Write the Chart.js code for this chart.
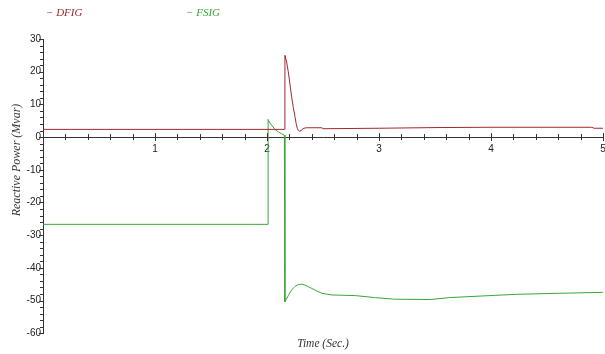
<!DOCTYPE html>
<html>
<head>
<meta charset="utf-8">
<script src="https://cdn.jsdelivr.net/npm/chart.js@4/dist/chart.umd.min.js"></script>
<style>
  html, body { margin: 0; padding: 0; background: #ffffff; }
  #wrap { position: relative; width: 605px; height: 354px; }
</style>
</head>
<body>
<div id="wrap"><canvas id="c" width="605" height="354"></canvas></div>
<script>
// ---- data ----
const seriesNames = ['DFIG', 'FSIG'];
const dfigTime  = [0, 2.155, 2.16, 2.175, 2.19, 2.205, 2.22, 2.235, 2.25, 2.26, 2.27, 2.28, 2.29, 2.305, 2.32, 2.34, 2.36, 2.49, 2.5, 3.0, 3.5, 4.0, 4.9, 4.92, 5.0];
const dfigValue = [2.35, 2.35, 25, 23, 20, 16.2, 12.3, 9.0, 6.2, 4.2, 2.7, 2.0, 1.8, 2.0, 2.5, 2.8, 2.85, 2.85, 2.55, 2.7, 2.9, 3.0, 3.0, 2.7, 2.7];
const fsigTime  = [0, 2.01, 2.01, 2.02, 2.04, 2.07, 2.10, 2.13, 2.155, 2.16, 2.19, 2.22, 2.25, 2.28, 2.31, 2.34, 2.37, 2.40, 2.44, 2.49, 2.54, 2.58, 2.79, 2.96, 3.14, 3.46, 3.63, 3.93, 4.23, 4.59, 5.0];
const fsigValue = [-26.7, -26.7, 5.4, 4.6, 3.7, 2.4, 1.6, 1.0, 0.6, -50.4, -48.5, -46.8, -45.7, -45.1, -45.0, -45.3, -45.8, -46.3, -47.0, -47.8, -48.1, -48.3, -48.5, -49.1, -49.6, -49.7, -49.1, -48.6, -48.1, -47.8, -47.5];
const xTickValues = [0, 1, 2, 3, 4, 5];
const yTickValues = [-60, -50, -40, -30, -20, -10, 0, 10, 20, 30];
const xTitle = 'Time (Sec.)';
const yTitle = 'Reactive Power (Mvar)';

const colors = ['#a3272b', '#3aa63a'];

function pts(xs, ys) { return xs.map((x, i) => ({ x: x, y: ys[i] })); }

// minor / major ticks crossing the axes, y title and legend
const decorPlugin = {
  id: 'decor',
  afterDraw(chart) {
    const ctx = chart.ctx;
    const xs = chart.scales.x, ys = chart.scales.y;
    const y0 = ys.getPixelForValue(0);
    const xl = ys.right;
    ctx.save();
    ctx.strokeStyle = '#333';
    ctx.lineWidth = 1;
    for (let i = 1; i <= 25; i++) {
      const v = i * 0.2;
      const px = Math.round(xs.getPixelForValue(v)) + 0.5;
      const major = i % 5 === 0;
      const len = major ? 4 : 3;
      ctx.beginPath();
      ctx.moveTo(px, y0 - len);
      ctx.lineTo(px, y0 + len);
      ctx.stroke();
    }
    for (let v = -60; v <= 30; v += 2) {
      const py = Math.round(ys.getPixelForValue(v)) + 0.5;
      const len = v % 10 === 0 ? 4 : 3;
      ctx.beginPath();
      ctx.moveTo(xl - len, py);
      ctx.lineTo(xl, py);
      ctx.stroke();
    }
    ctx.fillStyle = '#333';
    ctx.font = 'italic 12px "Liberation Serif"';
    ctx.textAlign = 'center';
    ctx.textBaseline = 'middle';
    ctx.translate(17, 160);
    ctx.rotate(-Math.PI / 2);
    ctx.fillText(yTitle, 0, 0);
    ctx.restore();
    ctx.save();
    ctx.font = 'italic 11px "Liberation Serif"';
    ctx.textAlign = 'left';
    ctx.textBaseline = 'middle';
    const legendX = [46, 186];
    chart.data.datasets.forEach((ds, i) => {
      ctx.fillStyle = ds.borderColor;
      ctx.fillText('\u2212 ' + ds.label, legendX[i], 13.5);
    });
    ctx.restore();
  }
};

new Chart(document.getElementById('c'), {
  type: 'scatter',
  data: {
    datasets: [
      { label: seriesNames[0], data: pts(dfigTime, dfigValue), borderColor: colors[0], backgroundColor: colors[0],
        showLine: true, pointRadius: 0, borderWidth: 1, tension: 0 },
      { label: seriesNames[1], data: pts(fsigTime, fsigValue), borderColor: colors[1], backgroundColor: colors[1],
        showLine: true, pointRadius: 0, borderWidth: 1, tension: 0 }
    ]
  },
  options: {
    responsive: false,
    animation: false,
    layout: { padding: { left: 0, right: 2, top: 39, bottom: 0 } },
    plugins: {
      legend: { display: false },
      tooltip: { enabled: false },
      title: {
        display: true, position: 'bottom', fullSize: false, text: xTitle,
        color: '#333', font: { family: '"Liberation Serif"', size: 11.5, style: 'italic', weight: 'normal' },
        padding: { top: 4, bottom: 3 }
      }
    },
    scales: {
      x: {
        type: 'linear', position: { y: 0 }, min: 0, max: 5,
        afterBuildTicks: (s) => { s.ticks = xTickValues.map(v => ({ value: v })); },
        afterFit: (s) => { s.paddingLeft = 0; s.paddingRight = 0; },
        grid: { display: false, drawTicks: false },
        border: { display: true, color: '#333', width: 1 },
        ticks: { padding: 6, color: '#222', font: { family: '"Liberation Sans"', size: 10 },
          maxRotation: 0, autoSkip: false,
          callback: (v) => v === 0 ? '' : String(v) }
      },
      y: {
        type: 'linear', position: 'left', min: -60, max: 30,
        afterBuildTicks: (s) => { s.ticks = yTickValues.map(v => ({ value: v })); },
        afterFit: (s) => { s.width = 43; s.paddingTop = 0; s.paddingBottom = 0; },
        grid: { display: false, drawTicks: false },
        border: { display: true, color: '#333', width: 1 },
        ticks: { padding: 2, color: '#222', font: { family: '"Liberation Sans"', size: 10 }, autoSkip: false }
      }
    }
  },
  plugins: [decorPlugin]
});
</script>
</body>
</html>
